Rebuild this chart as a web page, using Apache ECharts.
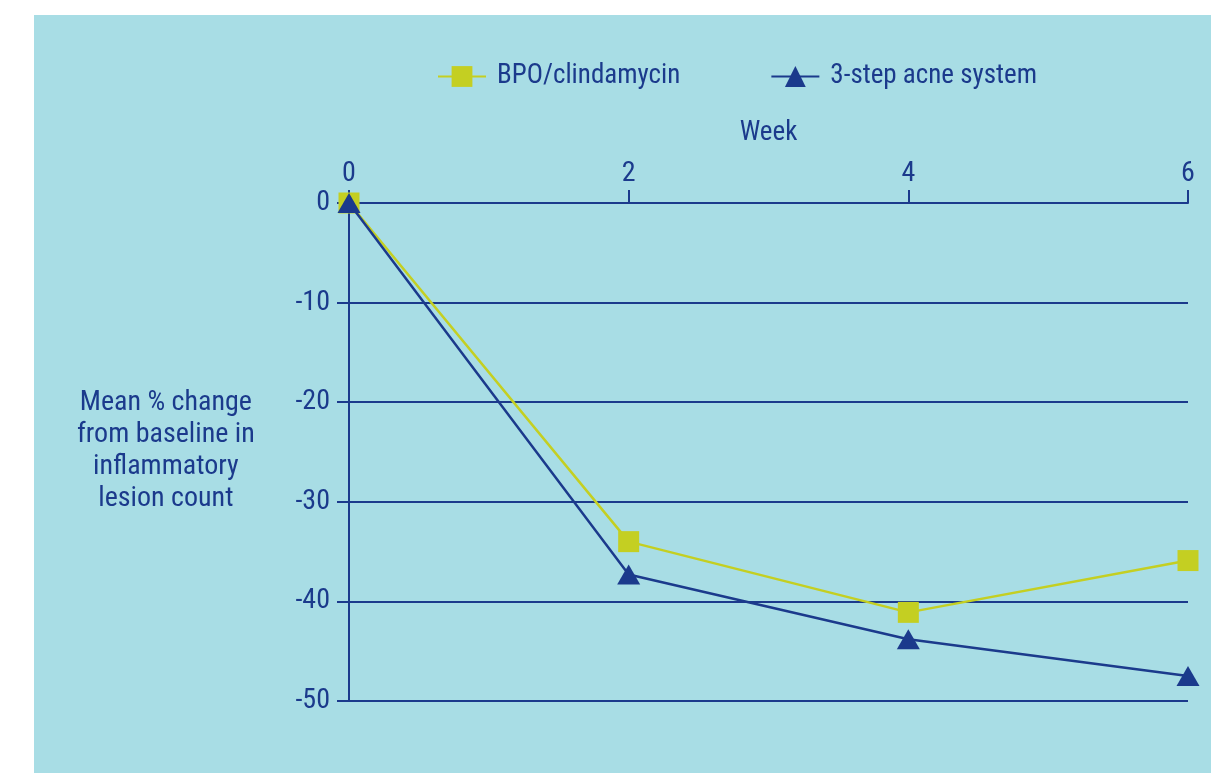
<!DOCTYPE html>
<html>
<head>
<meta charset="utf-8">
<script src="https://cdn.jsdelivr.net/npm/echarts@6/dist/echarts.min.js"></script>
<style>
  html, body { margin: 0; padding: 0; background: #ffffff; }
  #chart { width: 1211px; height: 773px; }
</style>
</head>
<body>
<div id="chart"></div>
<script>
// Weeks of treatment and mean % change in inflammatory lesion count
const weeks = [0, 2, 4, 6];
const bpoClindamycin = [0, -34.0, -41.1, -35.9];
const threeStepSystem = [0, -37.3, -43.8, -47.5];
const seriesNames = ['BPO/clindamycin', '3-step acne system'];
const yAxisTitle = 'Mean % change\nfrom baseline in\ninflammatory\nlesion count';
const xAxisTitle = 'Week';

const NAVY = '#1b3a8c';
const LIME = '#c4cf22';
const PANEL = '#a8dde5';
const FONT = '"Roboto Condensed", "Liberation Sans", sans-serif';

const pairs = (ys) => weeks.map((w, i) => [w, ys[i]]);

const chart = echarts.init(document.getElementById('chart'));
chart.setOption({
  backgroundColor: '#ffffff',
  animation: false,
  textStyle: { fontFamily: FONT, color: NAVY },
  graphic: [
    { type: 'rect', left: 34, top: 15, shape: { width: 1177, height: 758 }, style: { fill: PANEL }, z: -10 },
    { type: 'text', left: 77, top: 387, style: { text: yAxisTitle, fill: NAVY, font: '28px ' + FONT, textAlign: 'center', lineHeight: 32, width: 172 }, z: 5 }
  ],
  legend: {
    top: 58,
    left: 432,
    itemGap: 90,
    itemWidth: 48,
    itemHeight: 26,
    textStyle: { fontFamily: FONT, fontSize: 27, color: NAVY, padding: [0, 0, 0, 6] },
    data: seriesNames
  },
  grid: { left: 349, right: 23, top: 203, bottom: 72, containLabel: false },
  xAxis: {
    type: 'value',
    position: 'top',
    min: 0, max: 6, interval: 2,
    name: xAxisTitle,
    nameLocation: 'middle',
    nameGap: 56,
    nameTextStyle: { fontFamily: FONT, fontSize: 27, color: NAVY },
    axisLine: { onZero: false, lineStyle: { color: NAVY, width: 2 } },
    axisTick: { show: true, length: 13, lineStyle: { color: NAVY, width: 2 } },
    axisLabel: { margin: 15, fontFamily: FONT, fontSize: 28, color: NAVY },
    splitLine: { show: false }
  },
  yAxis: {
    type: 'value',
    min: -50, max: 0, interval: 10,
    axisLine: { show: true, lineStyle: { color: NAVY, width: 2 } },
    axisTick: { show: true, length: 12, lineStyle: { color: NAVY, width: 2 } },
    axisLabel: { margin: 19, fontFamily: FONT, fontSize: 28, color: NAVY },
    splitLine: { show: true, lineStyle: { color: NAVY, width: 2 } }
  },
  series: [
    {
      name: seriesNames[0],
      type: 'line',
      data: pairs(bpoClindamycin),
      symbol: 'rect',
      symbolSize: 21,
      itemStyle: { color: LIME },
      lineStyle: { color: LIME, width: 2.5 },
      z: 3
    },
    {
      name: seriesNames[1],
      type: 'line',
      data: pairs(threeStepSystem),
      symbol: 'triangle',
      symbolSize: [23, 20],
      itemStyle: { color: NAVY },
      lineStyle: { color: NAVY, width: 2.5 },
      z: 4
    }
  ]
});
</script>
</body>
</html>
